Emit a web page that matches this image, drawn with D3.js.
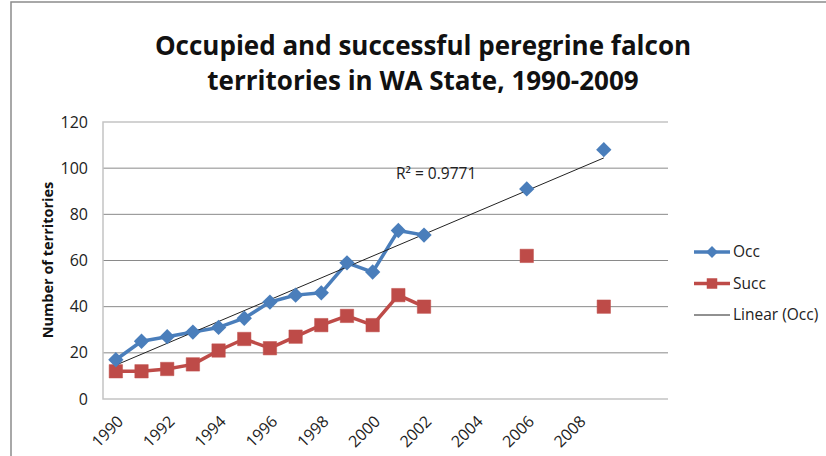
<!DOCTYPE html>
<html>
<head>
<meta charset="utf-8">
<script src="https://cdn.jsdelivr.net/npm/d3@7"></script>
<style>
  body { margin: 0; background: #fff; }
  text { font-family: "Open Sans", sans-serif; }
</style>
</head>
<body>
<div id="chart"></div>
<script>
// data
const years = d3.range(1990, 2012);          // category slots on the axis
const tickYears = [1990, 1992, 1994, 1996, 1998, 2000, 2002, 2004, 2006, 2008];
const yTicks = [0, 20, 40, 60, 80, 100, 120];

const occYears = [1990, 1991, 1992, 1993, 1994, 1995, 1996, 1997, 1998, 1999, 2000, 2001, 2002, 2006, 2009];
const occ = [17, 25, 27, 29, 31, 35, 42, 45, 46, 59, 55, 73, 71, 91, 108];
const succ = [12, 12, 13, 15, 21, 26, 22, 27, 32, 36, 32, 45, 40, 62, 40];

const width = 826, height = 456;
const plot = { left: 103, right: 668, top: 122, bottom: 399 };

const svg = d3.select("#chart").append("svg")
    .attr("width", width)
    .attr("height", height);

// outer chart frame (cut off at right/bottom like the picture)
svg.append("rect")
    .attr("x", 11).attr("y", 2)
    .attr("width", 840).attr("height", 480)
    .attr("fill", "none")
    .attr("stroke", "#8c8c8c")
    .attr("stroke-width", 1.5);

const x = d3.scaleBand().domain(years).range([plot.left, plot.right]);
const cx = yr => x(yr) + x.bandwidth() / 2;
const y = d3.scaleLinear().domain([0, 120]).range([plot.bottom, plot.top]);

// gridlines
svg.append("g").selectAll("line")
    .data(yTicks.filter(v => v > 0 && v < 120))
    .join("line")
    .attr("x1", plot.left).attr("x2", plot.right)
    .attr("y1", d => y(d)).attr("y2", d => y(d))
    .attr("stroke", "#8a8a8a")
    .attr("stroke-width", 1);

// plot border: top, left, bottom
svg.append("path")
    .attr("d", `M${plot.right},${y(120)}H${plot.left}V${y(0)}H${plot.right}`)
    .attr("fill", "none")
    .attr("stroke", "#c4c4c4")
    .attr("stroke-width", 1.5);

// y axis labels
svg.append("g")
    .attr("transform", `translate(${plot.left - 15},0)`)
    .call(d3.axisLeft(y).tickValues(yTicks).tickSize(0).tickPadding(0))
    .call(g => g.select(".domain").remove())
    .selectAll("text")
    .attr("font-family", "Open Sans")
    .attr("font-size", 16)
    .attr("fill", "#222");

// x axis labels, rotated
svg.append("g").selectAll("text")
    .data(tickYears)
    .join("text")
    .attr("transform", d => `translate(${cx(d)},${plot.bottom + 15}) rotate(-45)`)
    .attr("text-anchor", "end")
    .attr("dy", "0.75em")
    .attr("font-size", 16)
    .attr("fill", "#222")
    .text(d => d);

// y title
svg.append("text")
    .attr("transform", "translate(48,260) rotate(-90)")
    .attr("text-anchor", "middle")
    .attr("dy", "0.35em")
    .attr("font-size", 14.5)
    .attr("font-weight", "bold")
    .attr("fill", "#111")
    .text("Number of territories");

// chart title
svg.append("text")
    .attr("x", 423).attr("y", 55)
    .attr("text-anchor", "middle")
    .attr("font-size", 26)
    .attr("font-weight", "bold")
    .attr("fill", "#111")
    .text("Occupied and successful peregrine falcon");
svg.append("text")
    .attr("x", 423).attr("y", 90)
    .attr("text-anchor", "middle")
    .attr("font-size", 26)
    .attr("font-weight", "bold")
    .attr("fill", "#111")
    .text("territories in WA State, 1990-2009");

// linear trendline of Occ (least squares on year)
const mx = d3.mean(occYears), my = d3.mean(occ);
const sxy = d3.sum(occYears, (v, i) => (v - mx) * (occ[i] - my));
const sxx = d3.sum(occYears, v => (v - mx) ** 2);
const slope = sxy / sxx, icpt = my - slope * mx;
const ssRes = d3.sum(occYears, (v, i) => (occ[i] - (icpt + slope * v)) ** 2);
const ssTot = d3.sum(occ, v => (v - my) ** 2);
const r2 = 1 - ssRes / ssTot;

const occColor = "#4a7ebb", succColor = "#be4b48";

const line = d3.line()
    .x(d => cx(d.yr)).y(d => y(d.v));

// series lines: connected only over consecutive years
function runs(vals) {
  const pts = occYears.map((yr, i) => ({ yr, v: vals[i] }));
  const out = [];
  let cur = [pts[0]];
  for (let i = 1; i < pts.length; i++) {
    if (pts[i].yr - pts[i - 1].yr === 1) cur.push(pts[i]);
    else { out.push(cur); cur = [pts[i]]; }
  }
  out.push(cur);
  return out.filter(r => r.length > 1);
}

svg.append("g").selectAll("path")
    .data(runs(occ))
    .join("path")
    .attr("d", line)
    .attr("fill", "none")
    .attr("stroke", occColor)
    .attr("stroke-width", 3.5)
    .attr("stroke-linejoin", "round");

svg.append("g").selectAll("path")
    .data(runs(succ))
    .join("path")
    .attr("d", line)
    .attr("fill", "none")
    .attr("stroke", succColor)
    .attr("stroke-width", 3.5)
    .attr("stroke-linejoin", "round");

// markers
const diamond = d3.symbol().type(d3.symbolDiamond2).size(150);
const square = d3.symbol().type(d3.symbolSquare).size(180);

svg.append("g").selectAll("path")
    .data(occYears.map((yr, i) => ({ yr, v: succ[i] })))
    .join("path")
    .attr("transform", d => `translate(${cx(d.yr)},${y(d.v)})`)
    .attr("d", square)
    .attr("fill", succColor)
    .attr("stroke", "#c0504d")
    .attr("stroke-width", 0.5);

// trendline
svg.append("line")
    .attr("x1", cx(1990)).attr("y1", y(icpt + slope * 1990))
    .attr("x2", cx(2009)).attr("y2", y(icpt + slope * 2009))
    .attr("stroke", "#222")
    .attr("stroke-width", 1);

svg.append("g").selectAll("path")
    .data(occYears.map((yr, i) => ({ yr, v: occ[i] })))
    .join("path")
    .attr("transform", d => `translate(${cx(d.yr)},${y(d.v)})`)
    .attr("d", diamond)
    .attr("fill", occColor);

// R squared label
svg.append("text")
    .attr("x", 396).attr("y", 179)
    .attr("font-size", 15.5)
    .attr("fill", "#222")
    .text(`R² = ${r2.toFixed(4)}`);

// legend
const legend = [
  { name: "Occ", color: occColor, w: 3.5, sym: d3.symbol().type(d3.symbolDiamond2).size(90) },
  { name: "Succ", color: succColor, w: 3.5, sym: d3.symbol().type(d3.symbolSquare).size(110) },
  { name: "Linear (Occ)", color: "#222", w: 1, sym: null }
];
const lg = svg.append("g").selectAll("g")
    .data(legend)
    .join("g")
    .attr("transform", (d, i) => `translate(694,${252 + i * 31.5})`);
lg.append("line")
    .attr("x1", 0).attr("x2", 36)
    .attr("stroke", d => d.color)
    .attr("stroke-width", d => d.w);
lg.filter(d => d.sym)
    .append("path")
    .attr("transform", "translate(18,0)")
    .attr("d", d => d.sym())
    .attr("fill", d => d.color);
lg.append("text")
    .attr("x", 39)
    .attr("dy", "0.35em")
    .attr("font-size", 15.5)
    .attr("fill", "#222")
    .text(d => d.name);
</script>
</body>
</html>
